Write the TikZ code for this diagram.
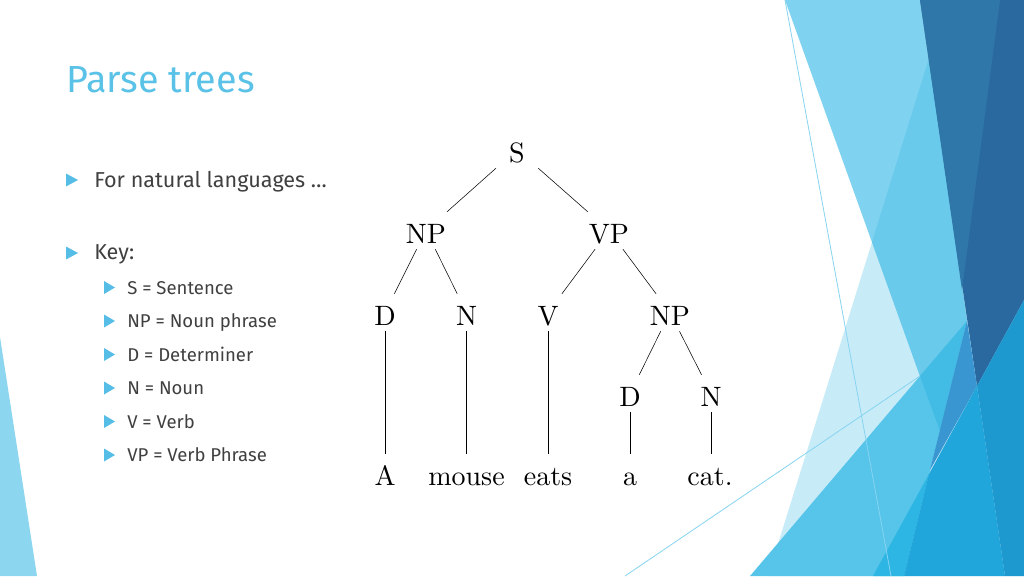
\documentclass[tikz,border=0pt]{standalone}
\usepackage{fontspec}
\usepackage{xcolor}
\usepackage{tikz}
\usetikzlibrary{positioning}
\newfontfamily\slidefont{Fira Sans}
\newfontfamily\treefont{lmroman10-regular.otf}

\definecolor{titleblue}{HTML}{5BC2E7}
\definecolor{bodygray}{HTML}{404040}
\definecolor{bulletblue}{HTML}{56BEE6}
\definecolor{sliverblue}{HTML}{8DD6F0}
\definecolor{paleblue}{HTML}{C8EBF8}
\definecolor{skyblue}{HTML}{7FD2F0}
\definecolor{midblue}{HTML}{6ACAEC}
\definecolor{darkblue}{HTML}{2A69A0}
\definecolor{darkstrip}{HTML}{2F77A9}
\definecolor{brightblue}{HTML}{57C5EA}
\definecolor{brightdeep}{HTML}{42BCE5}
\definecolor{deepblue}{HTML}{3A96D0}
\definecolor{lowblueA}{HTML}{2DB5E3}
\definecolor{lowblueB}{HTML}{21A6DB}
\definecolor{lowblueC}{HTML}{1E99CF}
\definecolor{hairblue}{HTML}{86D4F0}

\tikzset{
  tn/.style={font=\treefont\fontsize{21}{25}\selectfont, text height=21pt, text depth=2.25pt,
    inner sep=2.25pt, minimum width=36pt, anchor=base},
  mainitem/.style={font=\slidefont\fontsize{16.2}{20}\selectfont, text=bodygray, anchor=base west, inner sep=0pt},
  subitem/.style={font=\slidefont\fontsize{13.9}{16}\selectfont, text=bodygray, anchor=base west, inner sep=0pt},
  hair/.style={hairblue, line width=0.6pt},
}

\begin{document}
\begin{tikzpicture}[x=0.75pt,y=-0.75pt]
            % Background and frame
            \fill[white] (0,0) rectangle (1024,576);
            \useasboundingbox (0,0) rectangle (1024,576);
            \fill[sliverblue] (0,337) -- (37,576) -- (0,576) -- cycle;
            % Right facets
            \fill[paleblue] (768,576) -- (935,40) -- (1024,40) -- (1024,576) -- cycle;
            \fill[skyblue] (785,0) -- (920,0) -- (967,321) -- (920,376) -- cycle;
            \fill[midblue] (929,58) -- (967,321) -- (920,376) -- (872,242) -- cycle;
            \fill[darkblue] (920,0) -- (1024,0) -- (1024,300) -- (977,386) -- cycle;
            \fill[darkstrip] (920,0) -- (1000,0) -- (962,290) -- cycle;
            \fill[brightblue] (750,576) -- (920,376) -- (967,321) -- (904,576) -- cycle;
            \fill[brightdeep] (920,376) -- (967,321) -- (940,431) -- cycle;
            \fill[deepblue] (967,321) -- (977,386) -- (930,470) -- cycle;
            \fill[lowblueA] (873,576) -- (929,474) -- (904,576) -- cycle;
            \fill[lowblueB] (904,576) -- (929,474) -- (977,386) -- (1005,576) -- cycle;
            \fill[lowblueC] (977,386) -- (1024,300) -- (1024,576) -- (1005,576) -- cycle;
            \draw[hair] (785,0) -- (891,576);
            \draw[hair] (625,576) -- (920,376);

            % Title and bullets
            \node[font=\slidefont\fontsize{28.3}{32}\selectfont, text=titleblue, anchor=base west, inner sep=0pt]
                (title) at (66,92) {Parse trees};
            \fill[bulletblue] (66,173.5) -- (78,180) -- (66,186.5) -- cycle;
            \node[mainitem] (natural) at (94,187) {For natural languages …};
            \fill[bulletblue] (66,246.5) -- (78,253) -- (66,259.5) -- cycle;
            \node[mainitem] (key) at (94,259) {Key:};
            \foreach \i/\txt in {0/{S = Sentence},1/{NP = Noun phrase},2/{D = Determiner},
                                 3/{N = Noun},4/{V = Verb},5/{VP = Verb Phrase}} {
                \pgfmathsetmacro\by{294+33.5*\i}
                \fill[bulletblue] (104,\by-13) -- (115,\by-6.5) -- (104,\by) -- cycle;
                \node[subitem] (key\i) at (127,\by) {\txt};
            }

            % Parse tree
            \node[tn] (s) at (517,162) {S};
            \node[tn] (np) at (426,243) {NP};
            \node[tn] (vp) at (609,243) {VP};
            \node[tn] (d) at (385,325) {D};
            \node[tn] (n) at (466.5,325) {N};
            \node[tn] (v) at (548,325) {V};
            \node[tn] (npb) at (670,325) {NP};
            \node[tn] (db) at (630,406) {D};
            \node[tn] (nb) at (711,406) {N};
            \node[tn] (wa) at (385,485) {A};
            \node[tn] (wmouse) at (466.5,485) {mouse};
            \node[tn] (weats) at (548,485) {eats};
            \node[tn] (wsmalla) at (630,485) {a};
            \node[tn] (wcat) at (710,485) {cat.};
            \draw (s) -- (np);
            \draw (s) -- (vp);
            \draw (np) -- (d);
            \draw (np) -- (n);
            \draw (vp) -- (v);
            \draw (vp) -- (npb);
            \draw (npb) -- (db);
            \draw (npb) -- (nb);
            \draw (d) -- (wa);
            \draw (n) -- (wmouse);
            \draw (v) -- (weats);
            \draw (db) -- (wsmalla);
            \draw (nb.south) -- (nb.south |- wcat.north);
        \end{tikzpicture}
\end{document}
